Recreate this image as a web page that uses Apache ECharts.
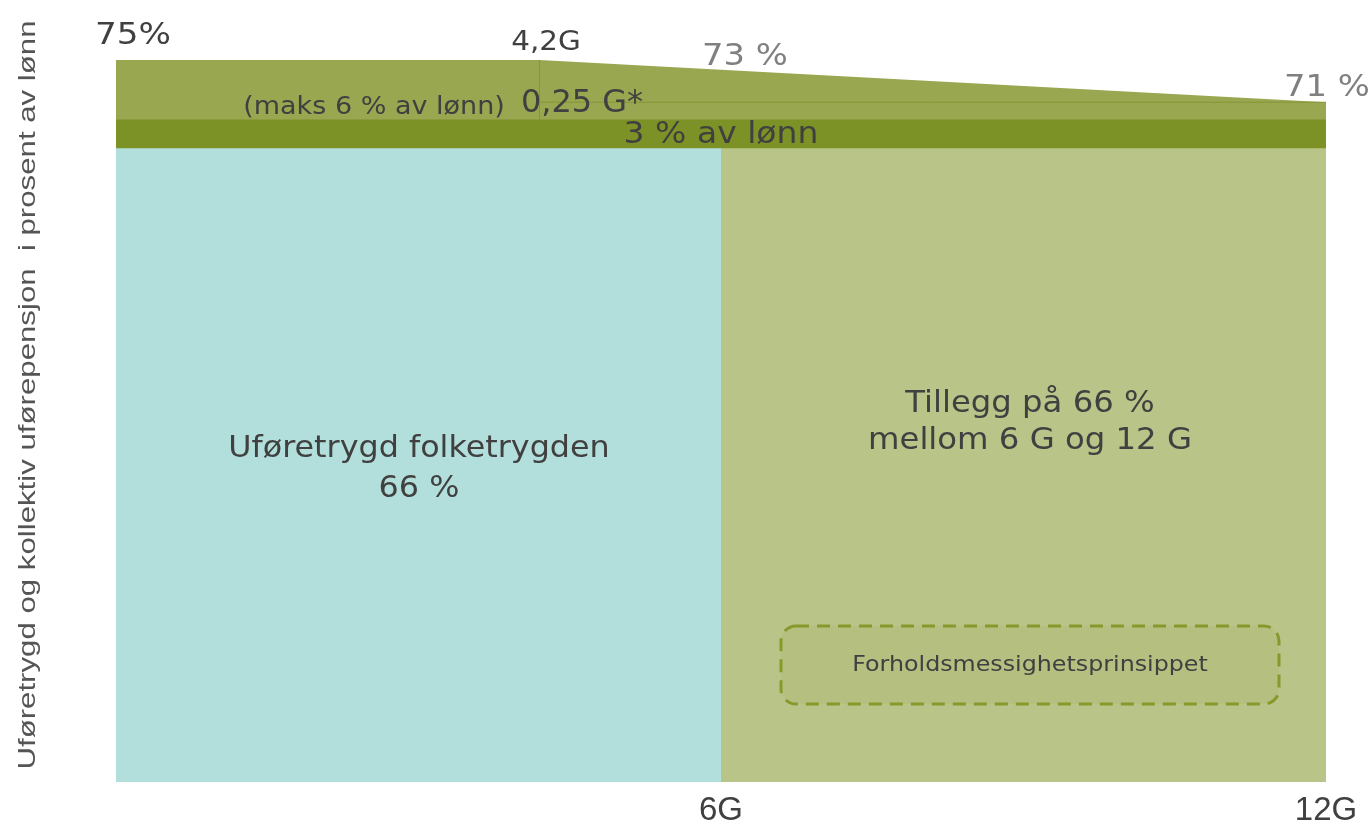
<!DOCTYPE html>
<html>
<head>
<meta charset="utf-8">
<script src="https://cdn.jsdelivr.net/npm/echarts@6/dist/echarts.min.js"></script>
<style>
html, body { margin: 0; padding: 0; background: #fff; }
#chart { width: 1371px; height: 826px; }
</style>
</head>
<body>
<div id="chart"></div>
<script>
// x in G (grunnbeløp), y in prosent av lønn
var xTicks = [0, 6, 12];
var topBand = [[0, 75.2], [4.2, 75.2], [12, 70.8]];   // 75 % -> 71 %
var lonnBand = [[0, 69], [12, 69]];                    // 3 % av lønn
var folketrygd = [[0, 66], [6, 66]];                   // uføretrygd 66 %
var tillegg = [[6, 66], [12, 66]];                     // tillegg 66 % 6G-12G
var splitV = [[4.2, 75.2], [4.2, 69]];
var splitH = [[4.2, 70.8], [12, 70.8]];

var chart = echarts.init(document.getElementById('chart'));
var dark = '#404040';
var font = 'DejaVu Sans';

function area(name, data, color) {
    return {
        name: name, type: 'line', data: data, symbol: 'none',
        lineStyle: { width: 0 }, areaStyle: { color: color, opacity: 1 },
        silent: true, animation: false
    };
}
function rule(data) {
    return {
        type: 'line', data: data, symbol: 'none', z: 5,
        lineStyle: { width: 1, color: '#849735' }, silent: true, animation: false
    };
}
// text label, stretched a bit to get the wide letter spacing of the original
function label(txt, x, y, size, sx, color, extra) {
    var st = { text: txt, fill: color || dark, font: size + 'px ' + font, align: 'center', verticalAlign: 'middle' };
    for (var k in extra) st[k] = extra[k];
    return { type: 'text', x: x, y: y, z: 11, scaleX: sx, style: st };
}

chart.setOption({
    animation: false,
    grid: { left: 116, right: 45, top: 60, bottom: 44, containLabel: false, outerBoundsMode: 'none' },
    xAxis: {
        type: 'value', min: 0, max: 12, interval: 6,
        axisLine: { show: false }, axisTick: { show: false }, splitLine: { show: false },
        axisLabel: {
            margin: 12, fontSize: 33, color: dark, fontFamily: 'Liberation Sans',
            formatter: function (v) { return xTicks.indexOf(v) > 0 ? v + 'G' : ''; }
        }
    },
    yAxis: {
        type: 'value', min: 0, max: 75.2,
        axisLine: { show: false }, axisTick: { show: false }, splitLine: { show: false },
        axisLabel: { show: false }
    },
    series: [
        area('topp', topBand, '#98a750'),
        area('lonn', lonnBand, '#7d9226'),
        area('folketrygd', folketrygd, '#b2dfdb'),
        area('tillegg', tillegg, '#b9c489'),
        rule(splitV),
        rule(splitH)
    ],
    graphic: [
        { type: 'text', x: 28, y: 395, rotation: Math.PI / 2, scaleX: 1.3, z: 11,
          style: { text: 'Uføretrygd og kollektiv uførepensjon  i prosent av lønn', fill: '#555',
                   font: '24px Liberation Sans', align: 'center', verticalAlign: 'middle' } },
        { type: 'rect', shape: { x: 781, y: 626, width: 498, height: 78, r: 15 }, z: 10,
          style: { fill: '#b4bf80', stroke: '#87992b', lineWidth: 3, lineDash: [13, 8] } },
        label('Forholdsmessighetsprinsippet', 1030, 665, 22, 1.08),
        label('75%', 133, 36, 30, 1.14),
        label('4,2G', 546, 43, 27, 1.09),
        label('73 %', 745, 57, 31, 1.09, '#808080'),
        label('71 %', 1327, 88, 31, 1.09, '#808080'),
        label('(maks 6 % av lønn)', 374, 107, 25, 1.08),
        label('0,25 G*', 582, 104, 32, 1.0),
        label('3 % av lønn', 721, 135, 30, 1.10),
        label('Uføretrygd folketrygden\n66 %', 419, 469, 30, 1.06, dark, { lineHeight: 40 }),
        label('Tillegg på 66 %\nmellom 6 G og 12 G', 1030, 423, 30, 1.077, dark, { lineHeight: 37 })
    ]
});
</script>
</body>
</html>
